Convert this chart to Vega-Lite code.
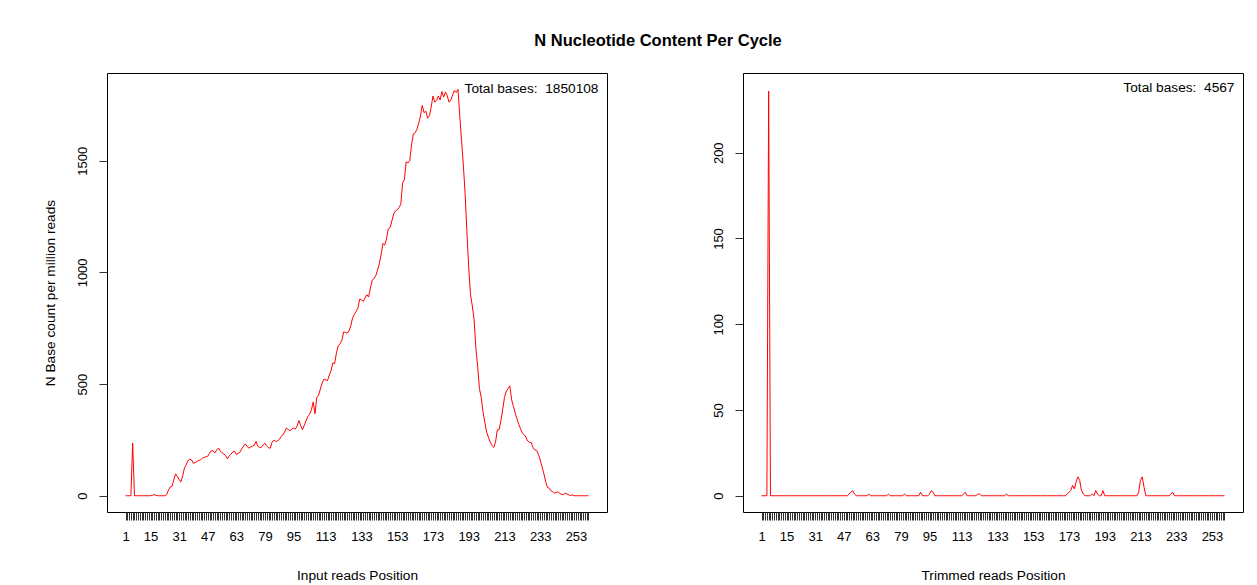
{
  "$schema": "https://vega.github.io/schema/vega-lite/v6.json",
  "background": "white",
  "padding": {"left": 42, "top": 33, "right": 5, "bottom": 0},
  "title": {
    "text": "N Nucleotide Content Per Cycle",
    "font": "Liberation Sans",
    "fontSize": 16.5,
    "fontWeight": "bold",
    "color": "black",
    "anchor": "middle",
    "offset": 23,
    "dx": 15
  },
  "config": {
    "font": "Liberation Sans",
    "view": {"stroke": "black", "strokeWidth": 1},
    "axis": {
      "labelFont": "Liberation Sans",
      "titleFont": "Liberation Sans",
      "labelFontSize": 13,
      "titleFontSize": 13.7,
      "titleFontWeight": "normal",
      "labelColor": "black",
      "titleColor": "black",
      "tickColor": "#333333",
      "tickSize": 8,
      "domain": false,
      "grid": false
    }
  },
  "datasets": {
    "input": [
      {"pos":1,"n":0},{"pos":2,"n":0},{"pos":3,"n":0},{"pos":4,"n":0},{"pos":5,"n":236},{"pos":6,"n":0},{"pos":7,"n":0},{"pos":8,"n":0},{"pos":9,"n":0},{"pos":10,"n":0},
      {"pos":11,"n":0},{"pos":12,"n":0},{"pos":13,"n":0},{"pos":14,"n":0},{"pos":15,"n":0},{"pos":16,"n":2},{"pos":17,"n":5},{"pos":18,"n":2},{"pos":19,"n":0},{"pos":20,"n":0},
      {"pos":21,"n":0},{"pos":22,"n":0},{"pos":23,"n":0},{"pos":24,"n":5},{"pos":25,"n":25},{"pos":26,"n":39},{"pos":27,"n":42},{"pos":28,"n":70},{"pos":29,"n":98},{"pos":30,"n":86},
      {"pos":31,"n":72},{"pos":32,"n":62},{"pos":33,"n":90},{"pos":34,"n":125},{"pos":35,"n":139},{"pos":36,"n":158},{"pos":37,"n":163},{"pos":38,"n":160},{"pos":39,"n":145},{"pos":40,"n":148},
      {"pos":41,"n":154},{"pos":42,"n":158},{"pos":43,"n":161},{"pos":44,"n":168},{"pos":45,"n":172},{"pos":46,"n":174},{"pos":47,"n":177},{"pos":48,"n":190},{"pos":49,"n":201},{"pos":50,"n":201},
      {"pos":51,"n":192},{"pos":52,"n":205},{"pos":53,"n":214},{"pos":54,"n":200},{"pos":55,"n":192},{"pos":56,"n":187},{"pos":57,"n":180},{"pos":58,"n":165},{"pos":59,"n":178},{"pos":60,"n":186},
      {"pos":61,"n":196},{"pos":62,"n":200},{"pos":63,"n":185},{"pos":64,"n":189},{"pos":65,"n":195},{"pos":66,"n":210},{"pos":67,"n":222},{"pos":68,"n":232},{"pos":69,"n":222},{"pos":70,"n":213},
      {"pos":71,"n":218},{"pos":72,"n":222},{"pos":73,"n":226},{"pos":74,"n":243},{"pos":75,"n":222},{"pos":76,"n":216},{"pos":77,"n":217},{"pos":78,"n":228},{"pos":79,"n":235},{"pos":80,"n":222},
      {"pos":81,"n":215},{"pos":82,"n":213},{"pos":83,"n":240},{"pos":84,"n":249},{"pos":85,"n":243},{"pos":86,"n":246},{"pos":87,"n":252},{"pos":88,"n":265},{"pos":89,"n":272},{"pos":90,"n":285},
      {"pos":91,"n":303},{"pos":92,"n":297},{"pos":93,"n":291},{"pos":94,"n":298},{"pos":95,"n":303},{"pos":96,"n":298},{"pos":97,"n":312},{"pos":98,"n":337},{"pos":99,"n":313},{"pos":100,"n":296},
      {"pos":101,"n":315},{"pos":102,"n":335},{"pos":103,"n":355},{"pos":104,"n":364},{"pos":105,"n":385},{"pos":106,"n":420},{"pos":107,"n":367},{"pos":108,"n":440},{"pos":109,"n":450},{"pos":110,"n":478},
      {"pos":111,"n":505},{"pos":112,"n":522},{"pos":113,"n":519},{"pos":114,"n":516},{"pos":115,"n":540},{"pos":116,"n":560},{"pos":117,"n":595},{"pos":118,"n":592},{"pos":119,"n":640},{"pos":120,"n":672},
      {"pos":121,"n":680},{"pos":122,"n":695},{"pos":123,"n":733},{"pos":124,"n":732},{"pos":125,"n":728},{"pos":126,"n":738},{"pos":127,"n":760},{"pos":128,"n":795},{"pos":129,"n":812},{"pos":130,"n":825},
      {"pos":131,"n":840},{"pos":132,"n":880},{"pos":133,"n":878},{"pos":134,"n":870},{"pos":135,"n":885},{"pos":136,"n":900},{"pos":137,"n":890},{"pos":138,"n":930},{"pos":139,"n":965},{"pos":140,"n":972},
      {"pos":141,"n":985},{"pos":142,"n":1010},{"pos":143,"n":1040},{"pos":144,"n":1080},{"pos":145,"n":1130},{"pos":146,"n":1122},{"pos":147,"n":1150},{"pos":148,"n":1195},{"pos":149,"n":1200},{"pos":150,"n":1230},
      {"pos":151,"n":1262},{"pos":152,"n":1275},{"pos":153,"n":1280},{"pos":154,"n":1290},{"pos":155,"n":1305},{"pos":156,"n":1400},{"pos":157,"n":1415},{"pos":158,"n":1495},{"pos":159,"n":1490},{"pos":160,"n":1500},
      {"pos":161,"n":1570},{"pos":162,"n":1620},{"pos":163,"n":1625},{"pos":164,"n":1640},{"pos":165,"n":1668},{"pos":166,"n":1700},{"pos":167,"n":1748},{"pos":168,"n":1715},{"pos":169,"n":1722},{"pos":170,"n":1690},
      {"pos":171,"n":1702},{"pos":172,"n":1740},{"pos":173,"n":1790},{"pos":174,"n":1762},{"pos":175,"n":1770},{"pos":176,"n":1790},{"pos":177,"n":1772},{"pos":178,"n":1810},{"pos":179,"n":1785},{"pos":180,"n":1808},
      {"pos":181,"n":1790},{"pos":182,"n":1762},{"pos":183,"n":1772},{"pos":184,"n":1795},{"pos":185,"n":1815},{"pos":186,"n":1805},{"pos":187,"n":1820},{"pos":188,"n":1700},{"pos":189,"n":1590},{"pos":190,"n":1480},
      {"pos":191,"n":1350},{"pos":192,"n":1180},{"pos":193,"n":1020},{"pos":194,"n":900},{"pos":195,"n":850},{"pos":196,"n":790},{"pos":197,"n":660},{"pos":198,"n":580},{"pos":199,"n":480},{"pos":200,"n":440},
      {"pos":201,"n":375},{"pos":202,"n":330},{"pos":203,"n":285},{"pos":204,"n":262},{"pos":205,"n":240},{"pos":206,"n":226},{"pos":207,"n":216},{"pos":208,"n":240},{"pos":209,"n":295},{"pos":210,"n":296},
      {"pos":211,"n":335},{"pos":212,"n":385},{"pos":213,"n":440},{"pos":214,"n":468},{"pos":215,"n":480},{"pos":216,"n":492},{"pos":217,"n":430},{"pos":218,"n":400},{"pos":219,"n":370},{"pos":220,"n":345},
      {"pos":221,"n":320},{"pos":222,"n":300},{"pos":223,"n":280},{"pos":224,"n":274},{"pos":225,"n":262},{"pos":226,"n":245},{"pos":227,"n":239},{"pos":228,"n":238},{"pos":229,"n":215},{"pos":230,"n":205},
      {"pos":231,"n":203},{"pos":232,"n":185},{"pos":233,"n":160},{"pos":234,"n":130},{"pos":235,"n":100},{"pos":236,"n":65},{"pos":237,"n":38},{"pos":238,"n":34},{"pos":239,"n":22},{"pos":240,"n":18},
      {"pos":241,"n":12},{"pos":242,"n":15},{"pos":243,"n":17},{"pos":244,"n":10},{"pos":245,"n":6},{"pos":246,"n":5},{"pos":247,"n":12},{"pos":248,"n":8},{"pos":249,"n":4},{"pos":250,"n":1},
      {"pos":251,"n":4},{"pos":252,"n":0},{"pos":253,"n":0},{"pos":254,"n":0},{"pos":255,"n":0},{"pos":256,"n":0},{"pos":257,"n":0},{"pos":258,"n":0},{"pos":259,"n":0},{"pos":260,"n":0}
    ],
    "trimmed": [
      {"pos":1,"n":0},{"pos":2,"n":0},{"pos":3,"n":0},{"pos":4,"n":0},{"pos":5,"n":236},{"pos":6,"n":0},{"pos":7,"n":0},{"pos":8,"n":0},{"pos":9,"n":0},{"pos":10,"n":0},
      {"pos":11,"n":0},{"pos":12,"n":0},{"pos":13,"n":0},{"pos":14,"n":0},{"pos":15,"n":0},{"pos":16,"n":0},{"pos":17,"n":0},{"pos":18,"n":0},{"pos":19,"n":0},{"pos":20,"n":0},
      {"pos":21,"n":0},{"pos":22,"n":0},{"pos":23,"n":0},{"pos":24,"n":0},{"pos":25,"n":0},{"pos":26,"n":0},{"pos":27,"n":0},{"pos":28,"n":0},{"pos":29,"n":0},{"pos":30,"n":0},
      {"pos":31,"n":0},{"pos":32,"n":0},{"pos":33,"n":0},{"pos":34,"n":0},{"pos":35,"n":0},{"pos":36,"n":0},{"pos":37,"n":0},{"pos":38,"n":0},{"pos":39,"n":0},{"pos":40,"n":0},
      {"pos":41,"n":0},{"pos":42,"n":0},{"pos":43,"n":0},{"pos":44,"n":0},{"pos":45,"n":0},{"pos":46,"n":0},{"pos":47,"n":0},{"pos":48,"n":0},{"pos":49,"n":0},{"pos":50,"n":1},
      {"pos":51,"n":2},{"pos":52,"n":3},{"pos":53,"n":1},{"pos":54,"n":0},{"pos":55,"n":0},{"pos":56,"n":0},{"pos":57,"n":0},{"pos":58,"n":0},{"pos":59,"n":0},{"pos":60,"n":0},
      {"pos":61,"n":1},{"pos":62,"n":0},{"pos":63,"n":0},{"pos":64,"n":0},{"pos":65,"n":0},{"pos":66,"n":0},{"pos":67,"n":0},{"pos":68,"n":0},{"pos":69,"n":0},{"pos":70,"n":0},
      {"pos":71,"n":0},{"pos":72,"n":1},{"pos":73,"n":0},{"pos":74,"n":0},{"pos":75,"n":0},{"pos":76,"n":0},{"pos":77,"n":0},{"pos":78,"n":0},{"pos":79,"n":0},{"pos":80,"n":0},
      {"pos":81,"n":1},{"pos":82,"n":0},{"pos":83,"n":0},{"pos":84,"n":0},{"pos":85,"n":0},{"pos":86,"n":0},{"pos":87,"n":0},{"pos":88,"n":0},{"pos":89,"n":0},{"pos":90,"n":2},
      {"pos":91,"n":0},{"pos":92,"n":0},{"pos":93,"n":0},{"pos":94,"n":0},{"pos":95,"n":1},{"pos":96,"n":3},{"pos":97,"n":2},{"pos":98,"n":0},{"pos":99,"n":0},{"pos":100,"n":0},
      {"pos":101,"n":0},{"pos":102,"n":0},{"pos":103,"n":0},{"pos":104,"n":0},{"pos":105,"n":0},{"pos":106,"n":0},{"pos":107,"n":0},{"pos":108,"n":0},{"pos":109,"n":0},{"pos":110,"n":0},
      {"pos":111,"n":0},{"pos":112,"n":0},{"pos":113,"n":0},{"pos":114,"n":1},{"pos":115,"n":2},{"pos":116,"n":0},{"pos":117,"n":0},{"pos":118,"n":0},{"pos":119,"n":0},{"pos":120,"n":0},
      {"pos":121,"n":0},{"pos":122,"n":1},{"pos":123,"n":1},{"pos":124,"n":0},{"pos":125,"n":0},{"pos":126,"n":0},{"pos":127,"n":0},{"pos":128,"n":0},{"pos":129,"n":0},{"pos":130,"n":0},
      {"pos":131,"n":0},{"pos":132,"n":0},{"pos":133,"n":0},{"pos":134,"n":0},{"pos":135,"n":0},{"pos":136,"n":0},{"pos":137,"n":0},{"pos":138,"n":1},{"pos":139,"n":0},{"pos":140,"n":0},
      {"pos":141,"n":0},{"pos":142,"n":0},{"pos":143,"n":0},{"pos":144,"n":0},{"pos":145,"n":0},{"pos":146,"n":0},{"pos":147,"n":0},{"pos":148,"n":0},{"pos":149,"n":0},{"pos":150,"n":0},
      {"pos":151,"n":0},{"pos":152,"n":0},{"pos":153,"n":0},{"pos":154,"n":0},{"pos":155,"n":0},{"pos":156,"n":0},{"pos":157,"n":0},{"pos":158,"n":0},{"pos":159,"n":0},{"pos":160,"n":0},
      {"pos":161,"n":0},{"pos":162,"n":0},{"pos":163,"n":0},{"pos":164,"n":0},{"pos":165,"n":0},{"pos":166,"n":0},{"pos":167,"n":0},{"pos":168,"n":0},{"pos":169,"n":0},{"pos":170,"n":0},
      {"pos":171,"n":0},{"pos":172,"n":1},{"pos":173,"n":2},{"pos":174,"n":3},{"pos":175,"n":6},{"pos":176,"n":4},{"pos":177,"n":8},{"pos":178,"n":11},{"pos":179,"n":9},{"pos":180,"n":3},
      {"pos":181,"n":1},{"pos":182,"n":0},{"pos":183,"n":0},{"pos":184,"n":0},{"pos":185,"n":0},{"pos":186,"n":1},{"pos":187,"n":0},{"pos":188,"n":3},{"pos":189,"n":1},{"pos":190,"n":0},
      {"pos":191,"n":0},{"pos":192,"n":3},{"pos":193,"n":0},{"pos":194,"n":0},{"pos":195,"n":0},{"pos":196,"n":0},{"pos":197,"n":0},{"pos":198,"n":0},{"pos":199,"n":0},{"pos":200,"n":0},
      {"pos":201,"n":0},{"pos":202,"n":0},{"pos":203,"n":0},{"pos":204,"n":0},{"pos":205,"n":0},{"pos":206,"n":0},{"pos":207,"n":0},{"pos":208,"n":0},{"pos":209,"n":0},{"pos":210,"n":0},
      {"pos":211,"n":0},{"pos":212,"n":2},{"pos":213,"n":9},{"pos":214,"n":11},{"pos":215,"n":5},{"pos":216,"n":0},{"pos":217,"n":0},{"pos":218,"n":0},{"pos":219,"n":0},{"pos":220,"n":0},
      {"pos":221,"n":0},{"pos":222,"n":0},{"pos":223,"n":0},{"pos":224,"n":0},{"pos":225,"n":0},{"pos":226,"n":0},{"pos":227,"n":0},{"pos":228,"n":0},{"pos":229,"n":0},{"pos":230,"n":1},
      {"pos":231,"n":2},{"pos":232,"n":0},{"pos":233,"n":0},{"pos":234,"n":0},{"pos":235,"n":0},{"pos":236,"n":0},{"pos":237,"n":0},{"pos":238,"n":0},{"pos":239,"n":0},{"pos":240,"n":0},
      {"pos":241,"n":0},{"pos":242,"n":0},{"pos":243,"n":0},{"pos":244,"n":0},{"pos":245,"n":0},{"pos":246,"n":0},{"pos":247,"n":0},{"pos":248,"n":0},{"pos":249,"n":0},{"pos":250,"n":0},
      {"pos":251,"n":0},{"pos":252,"n":0},{"pos":253,"n":0},{"pos":254,"n":0},{"pos":255,"n":0},{"pos":256,"n":0},{"pos":257,"n":0},{"pos":258,"n":0},{"pos":259,"n":0},{"pos":260,"n":0}
    ],
    "inputTotal": [{"pos": 260, "label": "Total bases: \u00a01850108"}],
    "trimmedTotal": [{"pos": 260, "label": "Total bases: \u00a04567"}]
  },
  "spacing": 103,
  "hconcat": [
    {
      "width": 500,
      "height": 439,
      "layer": [
        {
          "data": {"name": "input"},
          "mark": {"type": "line", "color": "#ff0000", "strokeWidth": 1},
          "encoding": {
            "x": {
              "field": "pos",
              "type": "quantitative",
              "scale": {"domain": [-9.36, 270.36], "nice": false, "zero": false},
              "axis": {
                "title": "Input reads Position",
                "values": [1,2,3,4,5,6,7,8,9,10,11,12,13,14,15,16,17,18,19,20,21,22,23,24,25,26,27,28,29,30,31,32,33,34,35,36,37,38,39,40,41,42,43,44,45,46,47,48,49,50,51,52,53,54,55,56,57,58,59,60,61,62,63,64,65,66,67,68,69,70,71,72,73,74,75,76,77,78,79,80,81,82,83,84,85,86,87,88,89,90,91,92,93,94,95,96,97,98,99,100,101,102,103,104,105,106,107,108,109,110,111,112,113,114,115,116,117,118,119,120,121,122,123,124,125,126,127,128,129,130,131,132,133,134,135,136,137,138,139,140,141,142,143,144,145,146,147,148,149,150,151,152,153,154,155,156,157,158,159,160,161,162,163,164,165,166,167,168,169,170,171,172,173,174,175,176,177,178,179,180,181,182,183,184,185,186,187,188,189,190,191,192,193,194,195,196,197,198,199,200,201,202,203,204,205,206,207,208,209,210,211,212,213,214,215,216,217,218,219,220,221,222,223,224,225,226,227,228,229,230,231,232,233,234,235,236,237,238,239,240,241,242,243,244,245,246,247,248,249,250,251,252,253,254,255,256,257,258,259,260],
                "tickCount": 400,
                "format": "d",
                "labelAngle": 0,
                "labelOverlap": false,
                "labelFlush": false,
                "labelPadding": 10.5,
                "titlePadding": 25,
                "labelExpr": "indexof([1,15,31,47,63,79,95,113,133,153,173,193,213,233,253], datum.value) >= 0 ? datum.label : ''"
              }
            },
            "y": {
              "field": "n",
              "type": "quantitative",
              "scale": {"domain": [-72.8, 1892.8], "nice": false, "zero": false},
              "axis": {
                "title": "N Base count per million reads",
                "values": [0, 500, 1000, 1500],
                "format": "d",
                "labelAngle": 270,
                "labelAlign": "center",
                "labelBaseline": "middle",
                "labelPadding": 17,
                "titlePadding": 19
              }
            }
          }
        },
        {
          "data": {"name": "inputTotal"},
          "mark": {"type": "text", "align": "right", "baseline": "middle", "dx": 10, "fontSize": 13.7, "color": "black"},
          "encoding": {
            "x": {"field": "pos", "type": "quantitative"},
            "y": {"datum": 1822, "type": "quantitative"},
            "text": {"field": "label"}
          }
        }
      ]
    },
    {
      "width": 500,
      "height": 439,
      "layer": [
        {
          "data": {"name": "trimmed"},
          "mark": {"type": "line", "color": "#ff0000", "strokeWidth": 1},
          "encoding": {
            "x": {
              "field": "pos",
              "type": "quantitative",
              "scale": {"domain": [-9.36, 270.36], "nice": false, "zero": false},
              "axis": {
                "title": "Trimmed reads Position",
                "values": [1,2,3,4,5,6,7,8,9,10,11,12,13,14,15,16,17,18,19,20,21,22,23,24,25,26,27,28,29,30,31,32,33,34,35,36,37,38,39,40,41,42,43,44,45,46,47,48,49,50,51,52,53,54,55,56,57,58,59,60,61,62,63,64,65,66,67,68,69,70,71,72,73,74,75,76,77,78,79,80,81,82,83,84,85,86,87,88,89,90,91,92,93,94,95,96,97,98,99,100,101,102,103,104,105,106,107,108,109,110,111,112,113,114,115,116,117,118,119,120,121,122,123,124,125,126,127,128,129,130,131,132,133,134,135,136,137,138,139,140,141,142,143,144,145,146,147,148,149,150,151,152,153,154,155,156,157,158,159,160,161,162,163,164,165,166,167,168,169,170,171,172,173,174,175,176,177,178,179,180,181,182,183,184,185,186,187,188,189,190,191,192,193,194,195,196,197,198,199,200,201,202,203,204,205,206,207,208,209,210,211,212,213,214,215,216,217,218,219,220,221,222,223,224,225,226,227,228,229,230,231,232,233,234,235,236,237,238,239,240,241,242,243,244,245,246,247,248,249,250,251,252,253,254,255,256,257,258,259,260],
                "tickCount": 400,
                "format": "d",
                "labelAngle": 0,
                "labelOverlap": false,
                "labelFlush": false,
                "labelPadding": 10.5,
                "titlePadding": 25,
                "labelExpr": "indexof([1,15,31,47,63,79,95,113,133,153,173,193,213,233,253], datum.value) >= 0 ? datum.label : ''"
              }
            },
            "y": {
              "field": "n",
              "type": "quantitative",
              "scale": {"domain": [-9.48, 246.5], "nice": false, "zero": false},
              "axis": {
                "title": null,
                "values": [0, 50, 100, 150, 200],
                "format": "d",
                "labelAngle": 270,
                "labelAlign": "center",
                "labelBaseline": "middle",
                "labelPadding": 17
              }
            }
          }
        },
        {
          "data": {"name": "trimmedTotal"},
          "mark": {"type": "text", "align": "right", "baseline": "middle", "dx": 10, "fontSize": 13.7, "color": "black"},
          "encoding": {
            "x": {"field": "pos", "type": "quantitative"},
            "y": {"datum": 237.5, "type": "quantitative"},
            "text": {"field": "label"}
          }
        }
      ]
    }
  ]
}
